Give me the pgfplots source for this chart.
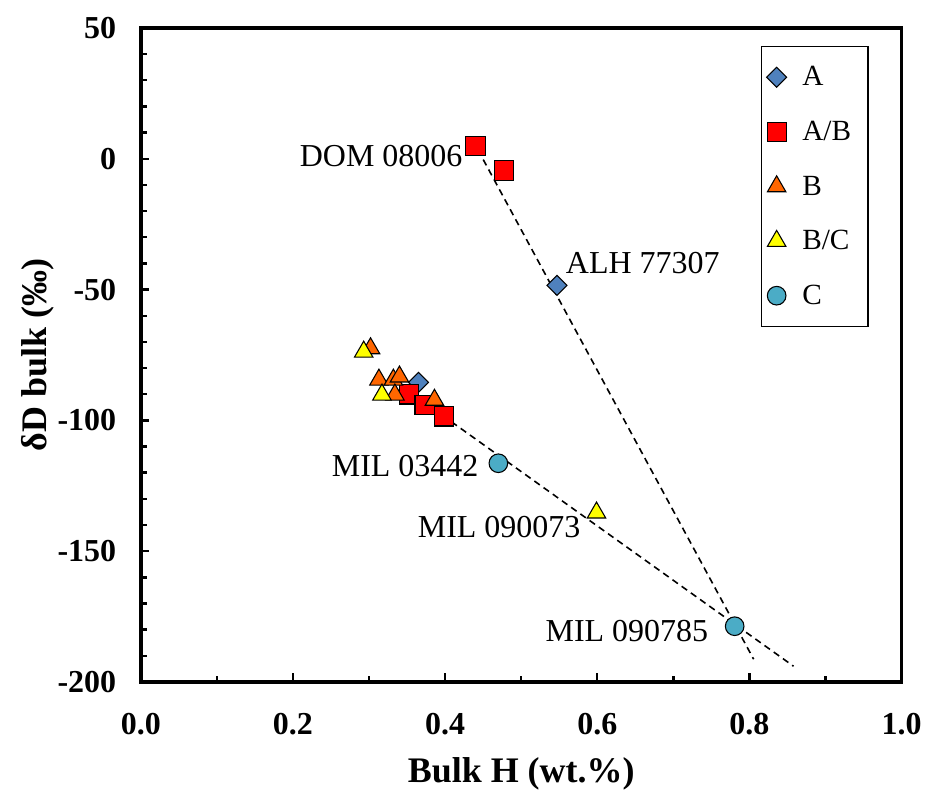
\documentclass[border=0pt]{standalone}
\usepackage{fontspec}
\setmainfont{Liberation Serif}
\usepackage{pgfplots}
\pgfplotsset{compat=1.18}
\definecolor{cA}{HTML}{4F81BD}
\definecolor{cAB}{HTML}{FF0000}
\definecolor{cB}{HTML}{FF6600}
\definecolor{cBC}{HTML}{FFFF00}
\definecolor{cC}{HTML}{4BACC6}
\begin{document}
\begin{tikzpicture}
\begin{axis}[
  scale only axis, width=571.5pt, height=491.25pt,
  xmin=0, xmax=1, ymin=-200, ymax=50,
  axis line style={line width=2.6pt},
  xtick={0,0.2,0.4,0.6,0.8,1}, xticklabels={0.0,0.2,0.4,0.6,0.8,1.0},
  ytick={-200,-150,-100,-50,0,50}, yticklabels={-200,-150,-100,-50,0,50},
  minor x tick num=1, minor y tick num=4,
  tick pos=left, tick align=inside,
  major tick length=6.5pt, minor tick length=4.5pt,
  every tick/.style={line width=1.8pt, black},
  ticklabel style={font=\fontsize{24}{28}\selectfont\bfseries},
  xticklabel style={yshift=-20pt},
  yticklabel style={xshift=-15pt},
  xlabel={Bulk H (wt.\%)}, ylabel={δD bulk (‰)},
  label style={font=\fontsize{27}{32}\selectfont\bfseries},
  xlabel style={at={(axis description cs:0.5,0)}, anchor=base, yshift=-75.75pt},
  ylabel style={at={(axis description cs:0,0.5)}, rotate=0, anchor=base, yshift=70.5pt},
  legend style={at={(0.8147,0.9725)}, anchor=north west, draw=black, line width=1.1pt,
    font=\fontsize{22}{26}\selectfont, row sep=21pt, inner xsep=4pt, inner ysep=13pt,
    cells={anchor=west}, /tikz/every odd column/.append style={column sep=9.75pt}},
  legend cell align=left,
  every axis plot/.append style={line width=0.8pt},
  clip=false,
]
\addplot[only marks, mark=square*, mark size=5.3pt, mark options={rotate=45, fill=cA, draw=black}]
  coordinates {(0.547,-48.4) (0.365,-85.5)};
\addlegendentry{\makebox[43.5pt][l]{A}}
\addplot[only marks, mark=square*, mark size=7.2pt, mark options={fill=cAB, draw=black}]
  coordinates {(0.440,5.0) (0.477,-4.5) (0.353,-90.1) (0.373,-94.0) (0.399,-98.5)};
\addlegendentry{\makebox[43.5pt][l]{A/B}}
\addplot[only marks, mark=triangle*, mark size=8pt, mark options={fill=cB, draw=black}]
  coordinates {(0.302,-72.5) (0.313,-84.5) (0.332,-84.5) (0.340,-83.3) (0.334,-90.2) (0.386,-92.2)};
\addlegendentry{\makebox[43.5pt][l]{B}}
\addplot[only marks, mark=triangle*, mark size=8pt, mark options={fill=cBC, draw=black}]
  coordinates {(0.293,-73.8) (0.317,-90.2) (0.599,-135.3)};
\addlegendentry{\makebox[43.5pt][l]{B/C}}
\addplot[only marks, mark=*, mark size=7pt, mark options={fill=cC, draw=black}]
  coordinates {(0.470,-116.4) (0.7806,-178.7)};
\addlegendentry{\makebox[43.5pt][l]{C}}
\addplot[forget plot, black, line width=1.2pt, dash pattern=on 5pt off 3.5pt]
  coordinates {(0.443,3.5) (0.8055,-191.3)};
\addplot[forget plot, black, line width=1.2pt, dash pattern=on 5pt off 3.5pt]
  coordinates {(0.36,-90.5) (0.858,-194)};
\node[anchor=east, inner sep=0pt, font=\fontsize{24}{28}\selectfont] at (axis cs:0.423,1.2) {DOM 08006};
\node[anchor=west, inner sep=0pt, font=\fontsize{24}{28}\selectfont] at (axis cs:0.5585,-39.7) {ALH 77307};
\node[anchor=east, inner sep=0pt, font=\fontsize{24}{28}\selectfont] at (axis cs:0.444,-117.5) {MIL 03442};
\node[anchor=east, inner sep=0pt, font=\fontsize{24}{28}\selectfont] at (axis cs:0.578,-140.9) {MIL 090073};
\node[anchor=east, inner sep=0pt, font=\fontsize{24}{28}\selectfont] at (axis cs:0.746,-180.6) {MIL 090785};
\end{axis}
\path (current axis.south west) ++(-105.75pt,-82.5pt) coordinate (bbsw);
\path (current axis.north east) ++(17.25pt,21pt) coordinate (bbne);
\path (bbsw) rectangle (bbne);
\end{tikzpicture}
\end{document}
